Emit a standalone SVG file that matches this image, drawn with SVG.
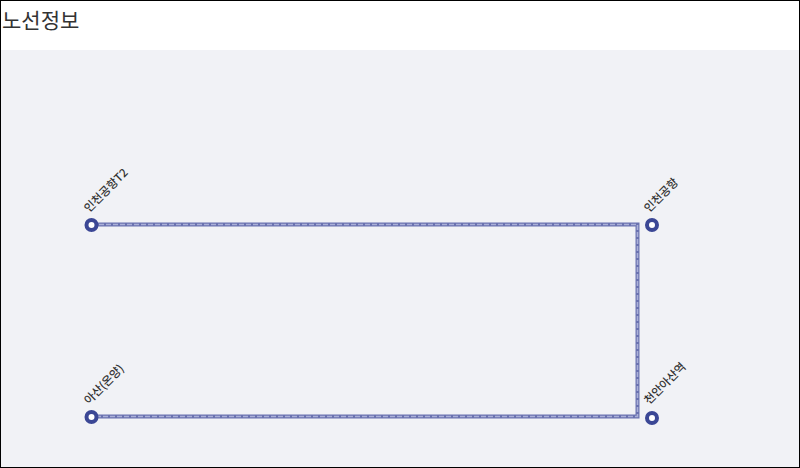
<svg xmlns="http://www.w3.org/2000/svg" width="800" height="468" viewBox="0 0 800 468">
<style>
.title{font-family:"Noto Sans CJK KR","Noto Sans",sans-serif;font-size:21px;fill:#333}
.lbl{font-family:"Noto Sans CJK KR","Noto Sans",sans-serif;font-size:11.5px;font-weight:500;fill:#333}
.base{fill:none;stroke:#6a72b0;stroke-width:4}
.dash{fill:none;stroke:#aab0d8;stroke-width:1.6;stroke-dasharray:5 2}
.st{fill:#fff;stroke:#3b4795;stroke-width:4}
</style>
<rect x="0" y="0" width="800" height="468" fill="#fff"/>
<rect x="1" y="50" width="798" height="417" fill="#f1f2f6"/>
<text class="title" x="2" y="28">노선정보</text>
<g id="connectors">
<path class="base" d="M92 224.5 H637.5 V416.5 H92"/>
<path class="dash" d="M92 224.5 H637.5 V416.5 H92"/>
</g>
<g id="n1"><circle class="st" cx="91.5" cy="225" r="5"/><text class="lbl" transform="translate(89 213) rotate(-45)">인천공항T2</text></g>
<g id="n2"><circle class="st" cx="652" cy="225" r="5"/><text class="lbl" transform="translate(649 213) rotate(-45)">인천공항</text></g>
<g id="n3"><circle class="st" cx="91.5" cy="417" r="5"/><text class="lbl" transform="translate(89 405) rotate(-45)">아산(온양)</text></g>
<g id="n4"><circle class="st" cx="652" cy="418" r="5"/><text class="lbl" transform="translate(649 405) rotate(-45)">천안아산역</text></g>
<rect x="0.5" y="0.5" width="799" height="467" fill="none" stroke="#000" stroke-width="1"/>
</svg>
